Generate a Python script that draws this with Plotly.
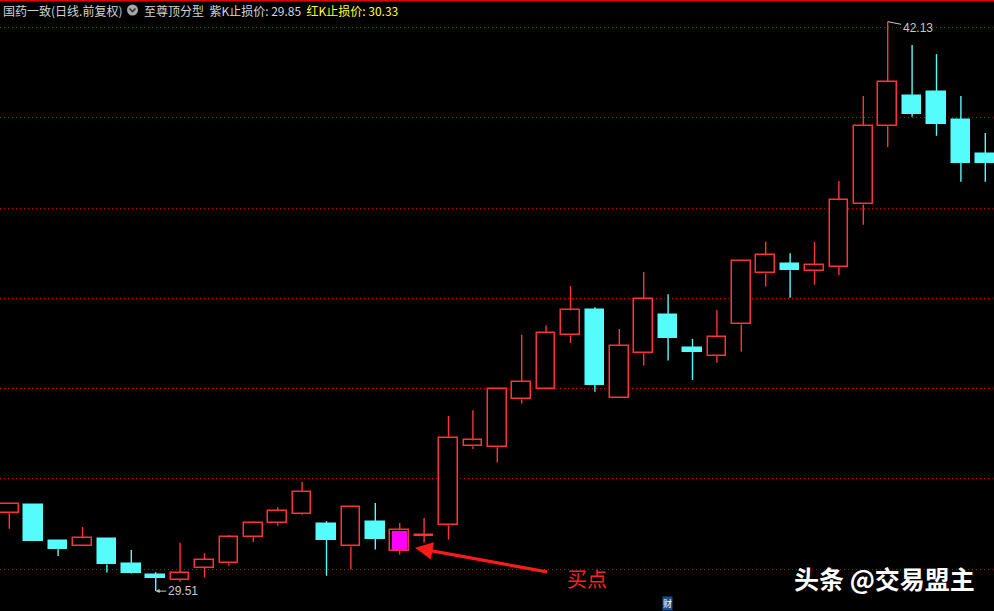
import plotly.graph_objects as go

# ---------------- data ----------------
opens = [31.25, 31.42, 30.62, 30.52, 30.66, 30.11, 29.87, 29.76, 30.03, 30.13,
         30.72, 31.03, 31.23, 31.00, 30.50, 31.04, 30.41, 30.74, 30.97, 32.72,
         32.70, 33.76, 33.98, 35.18, 35.73, 33.78, 34.78, 35.63, 34.90, 34.73,
         35.42, 36.55, 36.75, 36.61, 36.69, 38.08, 39.81, 40.48, 40.57, 39.95,
         39.20]
closes = [31.44, 30.63, 30.45, 30.68, 30.10, 29.92, 29.80, 29.91, 30.20, 30.71,
          31.03, 31.28, 31.70, 30.65, 31.37, 30.67, 30.86, 30.75, 32.90, 32.85,
          33.98, 34.14, 35.22, 35.73, 34.08, 34.94, 35.98, 35.13, 34.82, 35.14,
          36.82, 36.95, 36.62, 36.73, 38.17, 39.81, 40.79, 40.09, 39.87, 39.00,
          39.00]
highs = [31.46, 31.44, 30.62, 30.93, 30.66, 30.42, 29.93, 30.58, 30.35, 30.75,
         31.06, 31.37, 31.93, 31.06, 31.37, 31.46, 31.02, 31.13, 33.39, 33.52,
         33.98, 35.19, 35.40, 36.27, 35.80, 35.32, 36.58, 36.09, 35.10, 35.74,
         36.85, 37.25, 37.00, 37.25, 38.60, 40.48, 42.13, 41.61, 41.41, 40.48,
         39.66]
lows = [30.89, 30.63, 30.29, 30.52, 29.92, 29.90, 29.51, 29.72, 29.81, 30.07,
        30.60, 30.96, 31.20, 29.85, 29.99, 30.43, 30.32, 30.58, 30.65, 32.66,
        32.36, 33.67, 33.98, 35.01, 33.93, 33.78, 34.51, 34.62, 34.19, 34.57,
        34.82, 36.26, 36.01, 36.30, 36.51, 37.63, 39.35, 40.02, 39.60, 38.58,
        38.58]
purple_k = [16]              # the purple "buy" candle
buy_idx = 16
grid_prices = [30, 32, 34, 36, 38, 40, 42]
max_label = "42.13"
min_label = "29.51"
header_left = "国药一致(日线.前复权)"
header_mid = "至尊顶分型  紫K止损价: 29.85"
header_right = "红K止损价: 30.33"
buy_text = "买点"
watermark = "头条 @交易盟主"

# ---------------- styling ----------------
RED = "#ff3333"
CYAN = "#55fcfc"
MAGENTA = "#ff00ff"
W, H = 994, 611

n = len(opens)
idx = list(range(n))

body_base, body_len, fills, edges = [], [], [], []
for i in idx:
    o, c = opens[i], closes[i]
    body_base.append(min(o, c))
    body_len.append(max(abs(c - o), 0.012))
    if i in purple_k:
        fills.append("#000000"); edges.append(RED)
    elif c >= o:
        fills.append("#000000"); edges.append(RED)
    else:
        fills.append(CYAN); edges.append(CYAN)

wx_up, wy_up, wx_dn, wy_dn = [], [], [], []
for i in idx:
    o, c = opens[i], closes[i]
    top, bot = max(o, c), min(o, c)
    xs, ys = (wx_up, wy_up) if (c >= o or i in purple_k) else (wx_dn, wy_dn)
    if highs[i] > top:
        xs += [i, i, None]; ys += [top, highs[i], None]
    if lows[i] < bot:
        xs += [i, i, None]; ys += [bot, lows[i], None]

fig = go.Figure()
fig.add_trace(go.Bar(x=idx, base=body_base, y=body_len, width=0.76,
                     marker=dict(color=fills, line=dict(color=edges, width=1.5)),
                     hoverinfo="skip"))
# inner magenta fill of the purple candle (red frame shows around it)
fig.add_trace(go.Bar(x=purple_k, base=[min(opens[i], closes[i]) + 0.02 for i in purple_k],
                     y=[abs(closes[i] - opens[i]) - 0.04 for i in purple_k], width=0.6,
                     marker=dict(color=MAGENTA, line=dict(width=0)),
                     hoverinfo="skip"))
fig.add_trace(go.Scatter(x=wx_up, y=wy_up, mode="lines",
                         line=dict(color=RED, width=1.4), hoverinfo="skip"))
fig.add_trace(go.Scatter(x=wx_dn, y=wy_dn, mode="lines",
                         line=dict(color=CYAN, width=1.4), hoverinfo="skip"))

def px(x):
    return x / W

def py(y):
    return 1 - y / H

# y scale: 45.125 px per unit, price 42 at pixel 27.5
k = 45.125
y_top = 42 + 27.5 / k
y_bot = y_top - H / k
x_step = 24.4
x_left = -9.3 / x_step
x_right = (W - 9.3) / x_step

ann = []
ann.append(dict(xref="paper", yref="paper", x=px(1), y=py(10), xanchor="left",
                yanchor="middle", showarrow=False, text=header_left,
                font=dict(size=12, color="#d4d4d4", family="Noto Sans CJK SC")))
ann.append(dict(xref="paper", yref="paper", x=px(142), y=py(10), xanchor="left",
                yanchor="middle", showarrow=False,
                text=header_mid + "  <span style='color:#ffff33'>" + header_right + "</span>",
                font=dict(size=12, color="#d4d4d4", family="Noto Sans CJK SC")))
hi_i = highs.index(max(highs))
lo_i = lows.index(min(lows))
ann.append(dict(x=hi_i, y=highs[hi_i], xref="x", yref="y", text=max_label,
                showarrow=True, arrowhead=0, arrowwidth=1, arrowcolor="#c8c8c8",
                ax=30, ay=6, standoff=0, font=dict(size=12, color="#c8c8c8",
                family="Liberation Sans")))
ann.append(dict(x=lo_i, y=lows[lo_i], xref="x", yref="y", text=min_label,
                showarrow=True, arrowhead=2, arrowsize=0.8, arrowwidth=1,
                arrowcolor="#c8c8c8", ax=27, ay=0, standoff=0,
                font=dict(size=12, color="#c8c8c8", family="Liberation Sans")))
ann.append(dict(x=buy_idx + 0.63, y=opens[buy_idx] + 0.06, xref="x", yref="y",
                ax=buy_idx + 6.1, ay=lows[lo_i] + 0.42, axref="x", ayref="y",
                text="", showarrow=True, arrowhead=2, arrowsize=1.1,
                arrowwidth=3.2, arrowcolor="#ff1a1a"))
ann.append(dict(xref="paper", yref="paper", x=px(587), y=py(578), showarrow=False,
                text=buy_text, xanchor="center", yanchor="middle",
                font=dict(size=20, color="#ff2020", family="Noto Sans CJK SC")))
ann.append(dict(xref="paper", yref="paper", x=px(884), y=py(578), showarrow=False,
                text="<b>" + watermark + "</b>", xanchor="center", yanchor="middle",
                font=dict(size=25, color="#ffffff", family="Noto Sans CJK SC")))
ann.append(dict(xref="paper", yref="paper", x=px(667.5), y=py(603), showarrow=False,
                text="财", xanchor="center", yanchor="middle", bgcolor="#1f4f8f",
                borderpad=0, font=dict(size=9, color="#ffffff",
                family="Noto Sans CJK SC")))

shapes = [
    dict(type="line", xref="paper", yref="paper", x0=0, x1=1, y0=py(0.5), y1=py(0.5),
         line=dict(color="#e00000", width=2)),
    dict(type="circle", xref="paper", yref="paper", x0=px(127), x1=px(138),
         y0=py(15.5), y1=py(4.5), fillcolor="#a8a8a8", line=dict(width=0)),
    dict(type="path", xref="paper", yref="paper",
         path=f"M {px(129.5)} {py(8.5)} L {px(132.5)} {py(11.5)} L {px(135.5)} {py(8.5)}",
         line=dict(color="#303030", width=1.6)),
]

fig.update_layout(
    width=W, height=H, margin=dict(l=0, r=0, t=0, b=0),
    paper_bgcolor="#000000", plot_bgcolor="#000000",
    showlegend=False, hovermode=False, bargap=0, barmode="overlay",
    xaxis=dict(range=[x_left, x_right], showgrid=False, zeroline=False,
               showticklabels=False, ticks="", fixedrange=True),
    yaxis=dict(range=[y_bot, y_top], tickvals=grid_prices, showgrid=True,
               gridcolor="#c00000", griddash="1px,3px", gridwidth=1,
               zeroline=False, showticklabels=False, ticks="", fixedrange=True),
    annotations=ann, shapes=shapes,
)

fig.write_html("out.html", config={"displayModeBar": False},
               post_script="document.body.style.margin='0';")
